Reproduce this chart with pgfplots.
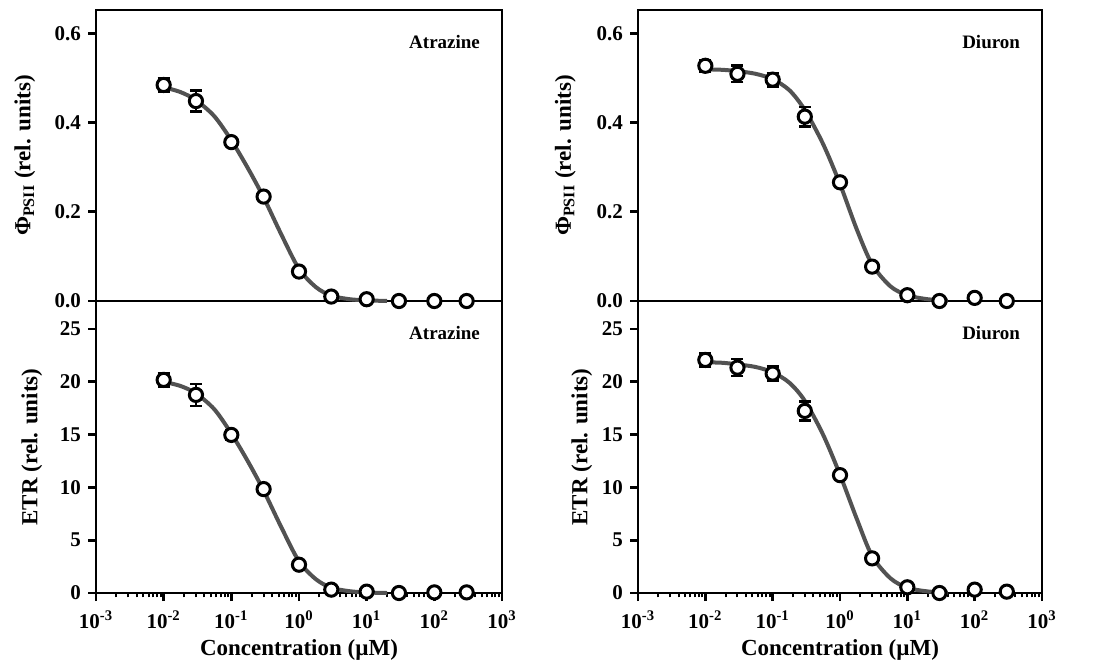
\documentclass[border=0pt]{standalone}
\usepackage{fontspec}
\setmainfont{Liberation Serif}
\usepackage{pgfplots}
\usepackage{pgfplotstable}
\pgfplotsset{compat=1.18}

% common look of all four panels
\pgfplotsset{every axis/.append style={
    scale only axis,
    tick align=outside, tick pos=left,
    major tick length=4pt, minor tick length=2.2pt,
    tick label style={font=\bfseries\fontsize{10.5}{12}\selectfont},
    label style={font=\bfseries\fontsize{11.5}{13}\selectfont},
    /pgf/number format/assume math mode=true,
    clip=false}}

% x y err
\pgfplotstableread{
x y e
0.01 0.484 0.015
0.03 0.448 0.024
0.1 0.356 0.009
0.3 0.234 0.008
1 0.066 0.005
3 0.010 0.003
10 0.004 0.002
30 0.000 0.001
100 0.000 0.001
300 0.000 0.001
}\atrPhi
\pgfplotstableread{
x y e
0.01 0.527 0.013
0.03 0.509 0.018
0.1 0.496 0.015
0.3 0.413 0.022
1 0.266 0.006
3 0.077 0.006
10 0.013 0.003
30 0.000 0.002
100 0.007 0.002
300 0.000 0.001
}\diuPhi
\pgfplotstableread{
x y e
0.01 20.18 0.6
0.03 18.76 1.05
0.1 14.97 0.45
0.3 9.84 0.3
1 2.68 0.2
3 0.32 0.1
10 0.13 0.05
30 0.0 0.05
100 0.06 0.05
300 0.06 0.05
}\atrETR
\pgfplotstableread{
x y e
0.01 22.07 0.6
0.03 21.34 0.8
0.1 20.78 0.65
0.3 17.24 0.9
1 11.16 0.3
3 3.28 0.2
10 0.54 0.1
30 0.0 0.05
100 0.32 0.05
300 0.13 0.05
}\diuETR

\newcommand\xlabs{10\textsuperscript{-3},10\textsuperscript{-2},10\textsuperscript{-1},10\textsuperscript{0},10\textsuperscript{1},10\textsuperscript{2},10\textsuperscript{3}}

\begin{document}
\begin{tikzpicture}
\useasboundingbox (0,0) rectangle (551pt,333pt);

% bottom left: ETR, atrazine
\begin{axis}[at={(48pt,36.5pt)}, anchor=south west, width=203pt, height=146pt,
    axis line style={line width=1.4pt}, major tick style={line width=1.4pt, black},
    minor tick style={line width=1pt, black},
    xmode=log, xmin=1e-3, xmax=1e3, ymin=0, ymax=27.65,
    ytick={0,5,10,15,20,25},
    xtick={1e-3,1e-2,1e-1,1,1e1,1e2,1e3}, xticklabels/.expand once=\xlabs,
    xticklabel style={yshift=-1.5pt},
    xlabel={Concentration (µM)},
    xlabel style={at={(axis description cs:0.5,-0.195)}, anchor=center},
    ylabel={ETR (rel. units)},
    ylabel style={at={(axis description cs:-0.158,0.5)}, anchor=center}]
\addplot[no marks, smooth, line width=2pt, black!68] coordinates {
 (0.01,20.0) (0.0178,19.6) (0.03,18.9) (0.056,17.4) (0.1,15.1) (0.178,12.4)
 (0.3,9.7) (0.56,6.1) (1,3.0) (1.78,1.3) (3,0.5) (5.6,0.17) (10,0.05) (20,0.0)};
\addplot[only marks, mark=*, mark size=3.3pt,
    mark options={fill=white, draw=black, line width=1.5pt},
    error bars/.cd, y dir=both, y explicit,
    error bar style={line width=1.3pt, black},
    error mark options={rotate=90, mark size=3pt, line width=1.3pt, black}]
    table[x=x, y=y, y error=e] {\atrETR};
\node[anchor=east, font=\bfseries\fontsize{9.5}{11}\selectfont] at (rel axis cs:0.963,0.89) {Atrazine};
\end{axis}

% bottom right: ETR, diuron
\begin{axis}[at={(319pt,36.5pt)}, anchor=south west, width=202pt, height=146pt,
    axis line style={line width=1.4pt}, major tick style={line width=1.4pt, black},
    minor tick style={line width=1pt, black},
    xmode=log, xmin=1e-3, xmax=1e3, ymin=0, ymax=27.65,
    ytick={0,5,10,15,20,25},
    xtick={1e-3,1e-2,1e-1,1,1e1,1e2,1e3}, xticklabels/.expand once=\xlabs,
    xticklabel style={yshift=-1.5pt},
    xlabel={Concentration (µM)},
    xlabel style={at={(axis description cs:0.5,-0.195)}, anchor=center},
    ylabel={ETR (rel. units)},
    ylabel style={at={(axis description cs:-0.139,0.5)}, anchor=center}]
\addplot[no marks, smooth, line width=2pt, black!68] coordinates {
 (0.01,21.85) (0.0178,21.8) (0.03,21.65) (0.056,21.4) (0.1,20.9) (0.178,19.9)
 (0.3,18.2) (0.56,15.0) (1,11.2) (1.78,7.0) (3,3.5) (5.6,1.4) (10,0.5) (20,0.15) (40,0.03)};
\addplot[only marks, mark=*, mark size=3.3pt,
    mark options={fill=white, draw=black, line width=1.5pt},
    error bars/.cd, y dir=both, y explicit,
    error bar style={line width=1.3pt, black},
    error mark options={rotate=90, mark size=3pt, line width=1.3pt, black}]
    table[x=x, y=y, y error=e] {\diuETR};
\node[anchor=east, font=\bfseries\fontsize{9.5}{11}\selectfont] at (rel axis cs:0.963,0.89) {Diuron};
\end{axis}

% top left: PhiPSII, atrazine
\begin{axis}[at={(48pt,182.5pt)}, anchor=south west, width=203pt, height=145.5pt,
    axis line style={line width=1.4pt}, major tick style={line width=1.4pt, black},
    xmode=log, xmin=1e-3, xmax=1e3, ymin=0, ymax=0.652,
    xtick=\empty, minor xtick={},
    ytick={0,0.2,0.4,0.6},
    yticklabels={0.0,0.2,0.4,0.6},
    ylabel={Φ\textsubscript{PSII} (rel. units)},
    ylabel style={at={(axis description cs:-0.175,0.5)}, anchor=center}]
\addplot[no marks, smooth, line width=2pt, black!68] coordinates {
 (0.01,0.479) (0.0178,0.468) (0.03,0.450) (0.056,0.414) (0.1,0.360) (0.178,0.296)
 (0.3,0.232) (0.56,0.146) (1,0.072) (1.78,0.031) (3,0.012) (5.6,0.004) (10,0.0015) (20,0.0)};
\addplot[only marks, mark=*, mark size=3.3pt,
    mark options={fill=white, draw=black, line width=1.5pt},
    error bars/.cd, y dir=both, y explicit,
    error bar style={line width=1.3pt, black},
    error mark options={rotate=90, mark size=3pt, line width=1.3pt, black}]
    table[x=x, y=y, y error=e] {\atrPhi};
\node[anchor=east, font=\bfseries\fontsize{9.5}{11}\selectfont] at (rel axis cs:0.963,0.89) {Atrazine};
\end{axis}

% top right: PhiPSII, diuron
\begin{axis}[at={(319pt,182.5pt)}, anchor=south west, width=202pt, height=145.5pt,
    axis line style={line width=1.4pt}, major tick style={line width=1.4pt, black},
    xmode=log, xmin=1e-3, xmax=1e3, ymin=0, ymax=0.652,
    xtick=\empty, minor xtick={},
    ytick={0,0.2,0.4,0.6},
    yticklabels={0.0,0.2,0.4,0.6},
    ylabel={Φ\textsubscript{PSII} (rel. units)},
    ylabel style={at={(axis description cs:-0.18,0.5)}, anchor=center}]
\addplot[no marks, smooth, line width=2pt, black!68] coordinates {
 (0.01,0.519) (0.0178,0.518) (0.03,0.515) (0.056,0.509) (0.1,0.497) (0.178,0.472)
 (0.3,0.428) (0.56,0.352) (1,0.262) (1.78,0.160) (3,0.082) (5.6,0.033) (10,0.013) (20,0.004) (40,0.001)};
\addplot[only marks, mark=*, mark size=3.3pt,
    mark options={fill=white, draw=black, line width=1.5pt},
    error bars/.cd, y dir=both, y explicit,
    error bar style={line width=1.3pt, black},
    error mark options={rotate=90, mark size=3pt, line width=1.3pt, black}]
    table[x=x, y=y, y error=e] {\diuPhi};
\node[anchor=east, font=\bfseries\fontsize{9.5}{11}\selectfont] at (rel axis cs:0.963,0.89) {Diuron};
\end{axis}
\end{tikzpicture}
\end{document}
